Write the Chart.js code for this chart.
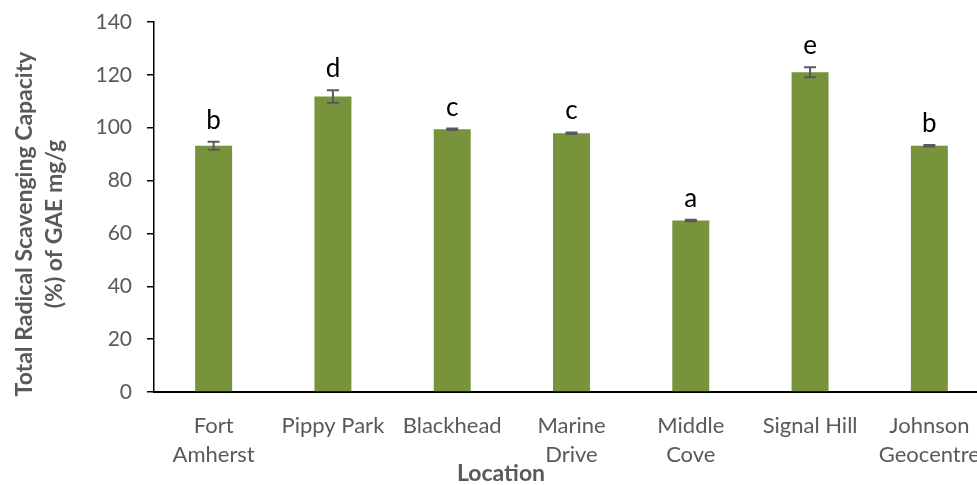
<!DOCTYPE html>
<html>
<head>
<meta charset="utf-8">
<script src="https://cdn.jsdelivr.net/npm/chart.js@4/dist/chart.umd.min.js"></script>
<style>
  html, body { margin: 0; padding: 0; overflow: hidden; background: #fff; }
</style>
</head>
<body>
<canvas id="graph" width="992" height="485"></canvas>
<script>
/* Total radical scavenging capacity by location */
const locations = [["Fort", "Amherst"], "Pippy Park", "Blackhead", ["Marine", "Drive"], ["Middle", "Cove"], "Signal Hill", ["Johnson", "Geocentre"]];
const capacity = [93.2, 111.8, 99.4, 97.9, 64.9, 121.0, 93.2];
const errors = [1.5, 2.4, 0.3, 0.3, 0.3, 1.9, 0.3];
const letters = ["b", "d", "c", "c", "a", "e", "b"];
const yMin = 0, yMax = 140, yStep = 20;

const grey = '#595959';

// error bars + significance letters + axis titles
const extras = {
    id: 'extras',
    afterDatasetsDraw(chart) {
        const ctx = chart.ctx;
        const x = chart.scales.x, y = chart.scales.y;
        ctx.save();
        ctx.strokeStyle = grey;
        ctx.lineWidth = 2;
        capacity.forEach((v, i) => {
            const px = x.getPixelForValue(i);
            const top = y.getPixelForValue(v + errors[i]);
            const bot = y.getPixelForValue(v - errors[i]);
            ctx.beginPath();
            ctx.moveTo(px, top); ctx.lineTo(px, bot);
            ctx.moveTo(px - 6, top); ctx.lineTo(px + 6, top);
            ctx.moveTo(px - 6, bot); ctx.lineTo(px + 6, bot);
            ctx.stroke();
            ctx.fillStyle = '#000';
            ctx.font = '26px Lato';
            ctx.textAlign = 'center';
            ctx.textBaseline = 'alphabetic';
            ctx.fillText(letters[i], px, top - 13);
        });
        ctx.restore();
    },
    afterDraw(chart) {
        const ctx = chart.ctx;
        ctx.save();
        ctx.fillStyle = grey;
        ctx.font = 'bold 23px Lato';
        ctx.textAlign = 'center';
        ctx.textBaseline = 'middle';
        ctx.fillText('Location', 501, 474);
        ctx.translate(40, 224);
        ctx.rotate(-Math.PI / 2);
        ctx.fillText('Total Radical Scavenging Capacity', 0, -15);
        ctx.fillText('(%) of GAE mg/g', 0, 15);
        ctx.restore();
    }
};

new Chart(document.getElementById('graph'), {
    type: 'bar',
    data: {
        labels: locations,
        datasets: [{
            data: capacity,
            backgroundColor: '#77933C',
            borderWidth: 0,
            barPercentage: 0.31,
            categoryPercentage: 1
        }]
    },
    options: {
        responsive: false,
        animation: false,
        layout: { padding: { left: 0, right: 3, top: 22, bottom: 0 } },
        plugins: { legend: { display: false }, tooltip: { enabled: false } },
        scales: {
            x: {
                grid: { display: false },
                border: { display: true, color: '#000', width: 2 },
                ticks: {
                    color: grey,
                    font: { family: 'Lato', size: 22, lineHeight: 1.3 },
                    padding: 12,
                    maxRotation: 0,
                    autoSkip: false
                },
                afterFit(scale) { scale.height = 93; scale.paddingLeft = 0; scale.paddingRight = 0; }
            },
            y: {
                min: yMin,
                max: yMax,
                grid: { display: true, drawOnChartArea: false, drawTicks: true, tickLength: 7, color: '#000', lineWidth: 1.5 },
                border: { display: true, color: '#000', width: 1.5 },
                ticks: {
                    stepSize: yStep,
                    color: grey,
                    font: { family: 'Lato', size: 21 },
                    padding: 15
                },
                afterFit(scale) { scale.width = 154; scale.paddingTop = 0; scale.paddingBottom = 0; }
            }
        }
    },
    plugins: [extras]
});
</script>
</body>
</html>
